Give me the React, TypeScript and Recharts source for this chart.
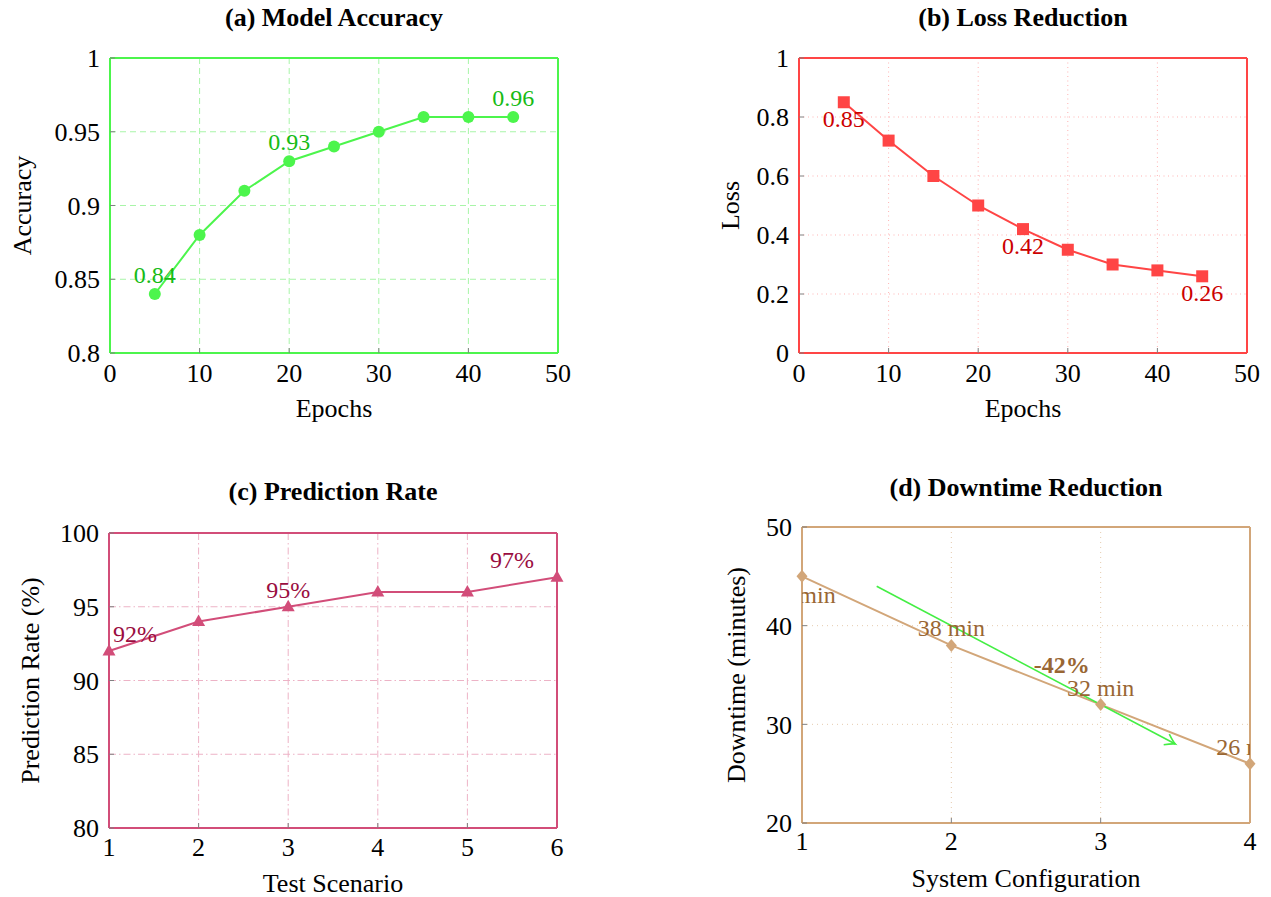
import {
  LineChart,
  Line,
  XAxis,
  YAxis,
  CartesianGrid,
  LabelList,
  Label,
  ReferenceLine,
  ReferenceDot,
} from "recharts";

const FONT = '"Liberation Serif", "Times New Roman", serif';
const TICK_GRAY = "#808080";

// (a) Model Accuracy
const epochs = [5, 10, 15, 20, 25, 30, 35, 40, 45];
const accuracy = [0.84, 0.88, 0.91, 0.93, 0.94, 0.95, 0.96, 0.96, 0.96];
const accuracyLabels = ["0.84", null, null, "0.93", null, null, null, null, "0.96"];
const epochTicks = [0, 10, 20, 30, 40, 50];
const accuracyTicks = [0.8, 0.85, 0.9, 0.95, 1];

// (b) Loss Reduction
const loss = [0.85, 0.72, 0.6, 0.5, 0.42, 0.35, 0.3, 0.28, 0.26];
const lossLabels = ["0.85", null, null, null, "0.42", null, null, null, "0.26"];
const lossTicks = [0, 0.2, 0.4, 0.6, 0.8, 1];

// (c) Prediction Rate
const scenarios = [1, 2, 3, 4, 5, 6];
const predictionRate = [92, 94, 95, 96, 96, 97];
const predictionLabels = ["92%", null, "95%", null, null, "97%"];
const scenarioTicks = [1, 2, 3, 4, 5, 6];
const predictionTicks = [80, 85, 90, 95, 100];

// (d) Downtime Reduction
const configs = [1, 2, 3, 4];
const downtime = [45, 38, 32, 26];
const downtimeLabels = ["45 min", "38 min", "32 min", "26 min"];
const configTicks = [1, 2, 3, 4];
const downtimeTicks = [20, 30, 40, 50];
const trendFrom = { x: 1.5, y: 44 };
const trendTo = { x: 3.5, y: 28 };
const trendText = "-42%";
const trendTextAt = { x: 2.74, y: 36 };

const rows = (xs: number[], ys: number[], labels: (string | null)[]) =>
  xs.map((x, i) => ({ x, y: ys[i], lbl: labels[i] }));

const tickStyle = { fill: "#000", fontSize: 26, fontFamily: FONT };

// markers
const circleDot = (color: string) => (p: any) =>
  <circle key={p.index} cx={p.cx} cy={p.cy} r={6} fill={color} />;
const squareDot = (color: string) => (p: any) =>
  <rect key={p.index} x={p.cx - 6} y={p.cy - 6} width={12} height={12} fill={color} />;
const triangleDot = (color: string) => (p: any) => (
  <path
    key={p.index}
    d={`M${p.cx},${p.cy - 7} L${p.cx + 6.5},${p.cy + 4.5} L${p.cx - 6.5},${p.cy + 4.5} Z`}
    fill={color}
  />
);
const diamondDot = (color: string) => (p: any) => (
  <path
    key={p.index}
    d={`M${p.cx},${p.cy - 6.5} L${p.cx + 5.5},${p.cy} L${p.cx},${p.cy + 6.5} L${p.cx - 5.5},${p.cy} Z`}
    fill={color}
  />
);

const pointLabel =
  (color: string, dy: number, dxByIndex: Record<number, number> = {}, clip?: string) =>
  (props: any) => {
    const { value, index } = props;
    if (!value) return null;
    const x = props.viewBox?.x ?? props.x;
    const y = props.viewBox?.y ?? props.y;
    return (
      <text
        x={x + (dxByIndex[index] ?? 0)}
        y={y + dy}
        textAnchor="middle"
        fill={color}
        fontSize={24}
        fontFamily={FONT}
        clipPath={clip ? `url(#${clip})` : undefined}
      >
        {value}
      </text>
    );
  };

const TrendArrow = (props: any) => {
  const { x1, y1, x2, y2 } = props;
  const len = Math.hypot(x2 - x1, y2 - y1);
  const ux = (x2 - x1) / len;
  const uy = (y2 - y1) / len;
  const nx = -uy;
  const ny = ux;
  const a = [x2 - 10 * ux + 6 * nx, y2 - 10 * uy + 6 * ny];
  const b = [x2 - 10 * ux - 6 * nx, y2 - 10 * uy - 6 * ny];
  const ca = [x2 - 3 * ux + 1 * nx, y2 - 3 * uy + 1 * ny];
  const cb = [x2 - 3 * ux - 1 * nx, y2 - 3 * uy - 1 * ny];
  return (
    <g>
      <line x1={x1} y1={y1} x2={x2} y2={y2} stroke="#44EE44" strokeWidth={1.6} />
      <path
        d={`M${a[0]},${a[1]} Q${ca[0]},${ca[1]} ${x2},${y2} Q${cb[0]},${cb[1]} ${b[0]},${b[1]}`}
        fill="none"
        stroke="#44EE44"
        strokeWidth={1.6}
      />
    </g>
  );
};

type PanelProps = {
  title: string;
  titleBaseline: number;
  plotLeft: number;
  plotTop: number;
  plotW: number;
  plotH: number;
  yw: number;
  data: any[];
  xDomain: [number, number];
  xTicks: number[];
  yDomain: [number, number];
  yTicks: number[];
  xLabel: string;
  yLabel: string;
  yLabelOffset: number;
  xTickMargin: number;
  color: string;
  gridColor: string;
  gridDash: string;
  dot: any;
  label: any;
  clipId?: string;
  children?: any;
};

function Panel(p: PanelProps) {
  const mt = 20;
  const mr = 20;
  const xh = 80;
  const W = p.yw + p.plotW + 1 + mr;
  const H = mt + 1 + p.plotH + xh;
  const axisLine = { stroke: p.color, strokeWidth: 2 };
  return (
    <>
      <div
        style={{
          position: "absolute",
          left: p.plotLeft - 100,
          width: p.plotW + 200,
          top: p.titleBaseline - 22,
          fontFamily: FONT,
          fontWeight: "bold",
          fontSize: 26,
          lineHeight: "26px",
          textAlign: "center",
          whiteSpace: "nowrap",
        }}
      >
        {p.title}
      </div>
      <div
        style={{
          position: "absolute",
          left: p.plotLeft - p.yw,
          top: p.plotTop - mt - 1,
          width: W,
          height: H,
        }}
      >
        <LineChart width={W} height={H} data={p.data} margin={{ top: mt, right: mr, bottom: 0, left: 0 }}>
          {p.clipId && (
            <defs>
              <clipPath id={p.clipId}>
                <rect x={p.yw} y={mt + 1} width={p.plotW} height={p.plotH} />
              </clipPath>
            </defs>
          )}
          <CartesianGrid stroke={p.gridColor} strokeDasharray={p.gridDash} />
          <XAxis
            type="number"
            dataKey="x"
            domain={p.xDomain}
            ticks={p.xTicks}
            interval={0}
            height={xh}
            stroke={TICK_GRAY}
            axisLine={axisLine}
            tickSize={-5}
            tickMargin={p.xTickMargin}
            tick={tickStyle}
          >
            <Label
              value={p.xLabel}
              position="insideTop"
              offset={46}
              fill="#000"
              style={{ fontSize: 26, fontFamily: FONT }}
            />
          </XAxis>
          <XAxis
            xAxisId="top"
            orientation="top"
            type="number"
            dataKey="x"
            domain={p.xDomain}
            ticks={p.xTicks}
            interval={0}
            height={1}
            stroke={TICK_GRAY}
            axisLine={axisLine}
            tickSize={-5}
            tick={false}
          />
          <YAxis
            type="number"
            domain={p.yDomain}
            ticks={p.yTicks}
            interval={0}
            width={p.yw}
            stroke={TICK_GRAY}
            axisLine={axisLine}
            tickSize={-5}
            tickMargin={15}
            tick={tickStyle}
          >
            <Label
              value={p.yLabel}
              angle={-90}
              position="insideLeft"
              offset={p.yLabelOffset}
              fill="#000"
              style={{ fontSize: 26, fontFamily: FONT, textAnchor: "middle" }}
            />
          </YAxis>
          <YAxis
            yAxisId="right"
            orientation="right"
            type="number"
            domain={p.yDomain}
            ticks={p.yTicks}
            interval={0}
            width={1}
            stroke={TICK_GRAY}
            axisLine={axisLine}
            tickSize={-5}
            tick={false}
          />
          <Line
            dataKey="y"
            stroke={p.color}
            strokeWidth={2}
            dot={p.dot}
            activeDot={false}
            isAnimationActive={false}
          >
            <LabelList dataKey="lbl" content={p.label} />
          </Line>
          {p.children}
        </LineChart>
      </div>
    </>
  );
}

export default function App() {
  const green = "#4CF54C";
  const red = "#FF4545";
  const purple = "#D24D79";
  const tan = "#D2A679";
  return (
    <div style={{ position: "absolute", left: 0, top: 0, width: 1271, height: 897, background: "#fff" }}>
      <Panel
        title="(a) Model Accuracy"
        titleBaseline={27}
        plotLeft={110}
        plotTop={58}
        plotW={448}
        plotH={295}
        yw={110}
        data={rows(epochs, accuracy, accuracyLabels)}
        xDomain={[0, 50]}
        xTicks={epochTicks}
        yDomain={[0.8, 1]}
        yTicks={accuracyTicks}
        xLabel="Epochs"
        yLabel="Accuracy"
        yLabelOffset={22}
        xTickMargin={16}
        color={green}
        gridColor="#A8F5A8"
        gridDash="6 4"
        dot={circleDot(green)}
        label={pointLabel("#16BB16", -11)}
      />
      <Panel
        title="(b) Loss Reduction"
        titleBaseline={27}
        plotLeft={799}
        plotTop={58}
        plotW={448}
        plotH={295}
        yw={110}
        data={rows(epochs, loss, lossLabels)}
        xDomain={[0, 50]}
        xTicks={epochTicks}
        yDomain={[0, 1]}
        yTicks={lossTicks}
        xLabel="Epochs"
        yLabel="Loss"
        yLabelOffset={41}
        xTickMargin={16}
        color={red}
        gridColor="#FFB3B3"
        gridDash="1 3.5"
        dot={squareDot(red)}
        label={pointLabel("#CC0000", 25)}
      />
      <Panel
        title="(c) Prediction Rate"
        titleBaseline={501}
        plotLeft={109}
        plotTop={533}
        plotW={448}
        plotH={295}
        yw={109}
        data={rows(scenarios, predictionRate, predictionLabels)}
        xDomain={[1, 6]}
        xTicks={scenarioTicks}
        yDomain={[80, 100]}
        yTicks={predictionTicks}
        xLabel="Test Scenario"
        yLabel="Prediction Rate (%)"
        yLabelOffset={30}
        xTickMargin={15}
        color={purple}
        gridColor="#EDB3C6"
        gridDash="7 3 1.5 3"
        dot={triangleDot(purple)}
        label={pointLabel("#9A0D3F", -9, { 0: 26, 5: -45 })}
      />
      <Panel
        title="(d) Downtime Reduction"
        titleBaseline={497}
        plotLeft={802}
        plotTop={527}
        plotW={448}
        plotH={296}
        yw={112}
        data={rows(configs, downtime, downtimeLabels)}
        xDomain={[1, 4]}
        xTicks={configTicks}
        yDomain={[20, 50]}
        yTicks={downtimeTicks}
        xLabel="System Configuration"
        yLabel="Downtime (minutes)"
        yLabelOffset={46}
        xTickMargin={14}
        color={tan}
        gridColor="#E5CBAE"
        gridDash="1 4"
        dot={diamondDot(tan)}
        label={(props: any) =>
          pointLabel("#996633", props.index === 0 ? 27 : -9, {}, "clip-d")(props)
        }
        clipId="clip-d"
      >
        <ReferenceLine segment={[trendFrom, trendTo]} shape={TrendArrow} />
        <ReferenceDot
          x={trendTextAt.x}
          y={trendTextAt.y}
          r={0}
          fill="none"
          stroke="none"
          label={(props: any) => (
            <text
              x={props.viewBox.x}
              y={props.viewBox.y + 8}
              textAnchor="middle"
              fill="#996633"
              fontSize={24}
              fontWeight="bold"
              fontFamily={FONT}
            >
              {trendText}
            </text>
          )}
        />
      </Panel>
    </div>
  );
}
